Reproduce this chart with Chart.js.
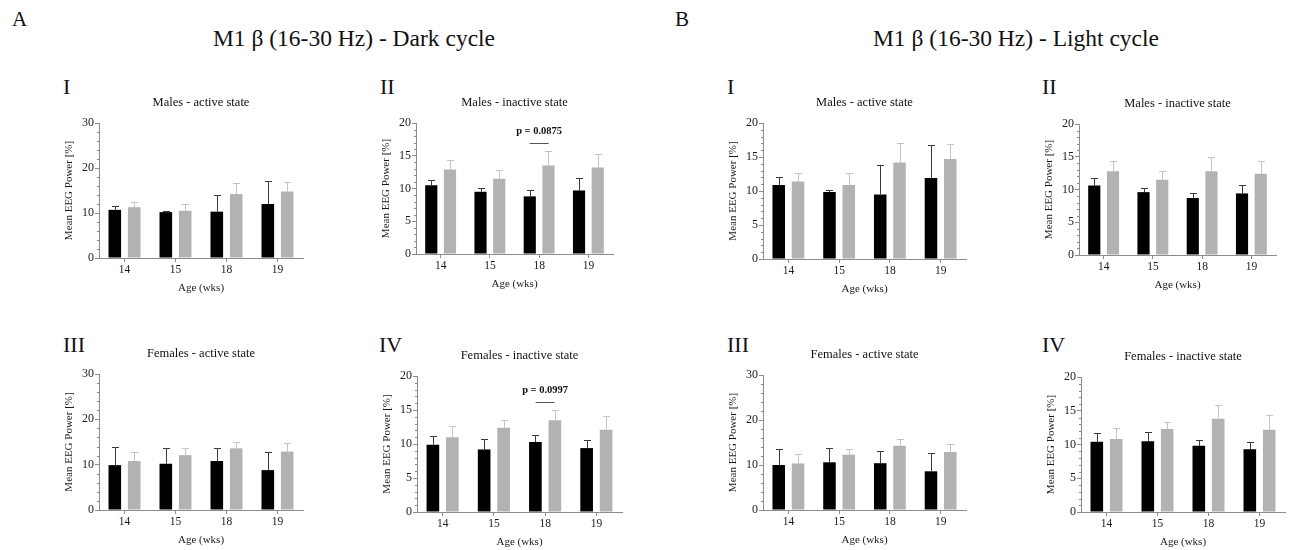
<!DOCTYPE html>
<html><head><meta charset="utf-8">
<script src="https://cdn.jsdelivr.net/npm/chart.js@4.4.1/dist/chart.umd.min.js"></script>
<style>
html,body{margin:0;padding:0;background:#fff;width:1290px;height:550px;overflow:hidden;position:relative;font-family:"Liberation Serif","Times New Roman",serif;}
canvas{position:absolute;}
.t{position:absolute;line-height:1;color:#111;white-space:nowrap;}
.c{text-align:center;width:400px;}
</style></head><body>
<script>
// ---------- DATA ----------
const ages = ['14', '15', '18', '19'];

// A: Dark cycle
const darkMaleActiveBlack      = [10.7, 10.2, 10.3, 12.0];
const darkMaleActiveBlackSem   = [0.9, 0.3, 3.6, 5.2];
const darkMaleActiveGray       = [11.3, 10.5, 14.2, 14.8];
const darkMaleActiveGraySem    = [1.2, 1.5, 2.5, 2.0];

const darkMaleInactiveBlack    = [10.5, 9.5, 8.8, 9.7];
const darkMaleInactiveBlackSem = [0.8, 0.55, 1.0, 1.9];
const darkMaleInactiveGray     = [12.9, 11.5, 13.5, 13.2];
const darkMaleInactiveGraySem  = [1.4, 1.3, 2.3, 2.1];

const darkFemaleActiveBlack    = [9.9, 10.2, 10.8, 8.8];
const darkFemaleActiveBlackSem = [3.95, 3.5, 2.8, 3.9];
const darkFemaleActiveGray     = [10.8, 12.1, 13.6, 12.9];
const darkFemaleActiveGraySem  = [2.1, 1.5, 1.5, 1.8];

const darkFemaleInactiveBlack    = [9.9, 9.2, 10.3, 9.4];
const darkFemaleInactiveBlackSem = [1.3, 1.5, 1.0, 1.2];
const darkFemaleInactiveGray     = [11.0, 12.4, 13.5, 12.1];
const darkFemaleInactiveGraySem  = [1.7, 1.2, 1.5, 2.0];

// B: Light cycle
const lightMaleActiveBlack      = [10.9, 9.85, 9.5, 11.9];
const lightMaleActiveBlackSem   = [1.15, 0.25, 4.3, 4.8];
const lightMaleActiveGray       = [11.4, 10.9, 14.2, 14.7];
const lightMaleActiveGraySem    = [1.25, 1.75, 2.85, 2.2];

const lightMaleInactiveBlack    = [10.6, 9.6, 8.7, 9.4];
const lightMaleInactiveBlackSem = [1.2, 0.7, 0.8, 1.35];
const lightMaleInactiveGray     = [12.8, 11.5, 12.8, 12.4];
const lightMaleInactiveGraySem  = [1.5, 1.3, 2.1, 2.0];

const lightFemaleActiveBlack    = [10.0, 10.6, 10.4, 8.6];
const lightFemaleActiveBlackSem = [3.6, 3.1, 2.8, 4.1];
const lightFemaleActiveGray     = [10.35, 12.3, 14.3, 12.9];
const lightFemaleActiveGraySem  = [2.2, 1.3, 1.4, 1.8];

const lightFemaleInactiveBlack    = [10.4, 10.5, 9.8, 9.3];
const lightFemaleInactiveBlackSem = [1.25, 1.35, 0.8, 1.1];
const lightFemaleInactiveGray     = [10.8, 12.3, 13.8, 12.2];
const lightFemaleInactiveGraySem  = [1.6, 1.1, 2.1, 2.2];

// axis ranges (max, major step)
const yTicks30 = [30, 10];
const yTicks20 = [20, 5];

// significance annotations
const pDarkMaleInactive   = {cat: '18', text: 'p = 0.0875', line: 17.0, label: 18.7};
const pDarkFemaleInactive = {cat: '18', text: 'p = 0.0997', line: 16.2, label: 17.9};

// ---------- LAYOUT ----------
const FONT = '"Liberation Serif","Times New Roman",serif';
const panels = [
  {rect:[99,123,303,258],  ax:yTicks30, title:'Males - active state',     roman:'I',   rx:63,   rb:94,  b:darkMaleActiveBlack, bs:darkMaleActiveBlackSem, g:darkMaleActiveGray, gs:darkMaleActiveGraySem},
  {rect:[416,123,613,254], ax:yTicks20, title:'Males - inactive state',   roman:'II',  rx:380,  rb:94,  b:darkMaleInactiveBlack, bs:darkMaleInactiveBlackSem, g:darkMaleInactiveGray, gs:darkMaleInactiveGraySem, p:pDarkMaleInactive},
  {rect:[99,374,303,510],  ax:yTicks30, title:'Females - active state',   roman:'III', rx:63,   rb:352, b:darkFemaleActiveBlack, bs:darkFemaleActiveBlackSem, g:darkFemaleActiveGray, gs:darkFemaleActiveGraySem},
  {rect:[417,376,622,512], ax:yTicks20, title:'Females - inactive state', roman:'IV',  rx:379,  rb:352, b:darkFemaleInactiveBlack, bs:darkFemaleInactiveBlackSem, g:darkFemaleInactiveGray, gs:darkFemaleInactiveGraySem, p:pDarkFemaleInactive},
  {rect:[763,123,966,259], ax:yTicks20, title:'Males - active state',     roman:'I',   rx:727,  rb:94,  b:lightMaleActiveBlack, bs:lightMaleActiveBlackSem, g:lightMaleActiveGray, gs:lightMaleActiveGraySem},
  {rect:[1079,124,1276,255], ax:yTicks20, title:'Males - inactive state', roman:'II',  rx:1042, rb:94,  b:lightMaleInactiveBlack, bs:lightMaleInactiveBlackSem, g:lightMaleInactiveGray, gs:lightMaleInactiveGraySem},
  {rect:[763,375,966,510], ax:yTicks30, title:'Females - active state',   roman:'III', rx:727,  rb:352, b:lightFemaleActiveBlack, bs:lightFemaleActiveBlackSem, g:lightFemaleActiveGray, gs:lightFemaleActiveGraySem},
  {rect:[1081,377,1285,512], ax:yTicks20, title:'Females - inactive state', roman:'IV', rx:1042, rb:352, b:lightFemaleInactiveBlack, bs:lightFemaleInactiveBlackSem, g:lightFemaleInactiveGray, gs:lightFemaleInactiveGraySem}
];

function addText(txt, size, left, baseline, cls, weight){
  const d = document.createElement('div');
  d.className = 't' + (cls ? ' ' + cls : '');
  d.textContent = txt;
  d.style.fontSize = size + 'px';
  d.style.left = left + 'px';
  d.style.top = (baseline - 0.8375 * size) + 'px';
  if (weight) d.style.fontWeight = weight;
  document.body.appendChild(d);
}
addText('A', 21, 12, 27);
addText('B', 21, 675, 27);
addText('M1 β (16-30 Hz) - Dark cycle', 23.5, 354 - 200, 47, 'c');
addText('M1 β (16-30 Hz) - Light cycle', 23.5, 1016 - 200, 47, 'c');
panels.forEach(p => addText(p.roman, 22, p.rx, p.rb));

const AX = '#8c8c8c';
const decoPlugin = {
  id: 'deco',
  afterDatasetsDraw(chart, args, opts) {
    const ctx = chart.ctx, ys = chart.scales.y, xs = chart.scales.x, a = chart.chartArea;
    // error bars
    chart.data.datasets.forEach((ds, di) => {
      const meta = chart.getDatasetMeta(di);
      meta.data.forEach((bar, i) => {
        const yt = Math.round(ys.getPixelForValue(ds.data[i] + ds.sem[i])) + 0.5;
        const bx = Math.round(bar.x) + 0.5;
        ctx.save();
        ctx.strokeStyle = ds.errColor; ctx.lineWidth = 1;
        ctx.beginPath();
        ctx.moveTo(bx, bar.y); ctx.lineTo(bx, yt);
        ctx.moveTo(bx - 3.5, yt); ctx.lineTo(bx + 3.5, yt);
        ctx.stroke();
        ctx.restore();
      });
    });
    // minor ticks on y
    ctx.save();
    ctx.strokeStyle = AX; ctx.lineWidth = 1;
    ctx.beginPath();
    const minor = opts.major / 5;
    for (let k = 0; k * minor <= opts.max + 1e-9; k++) {
      if (k % 5 === 0) continue;
      const yy = Math.round(ys.getPixelForValue(k * minor)) + 0.5;
      ctx.moveTo(Math.round(a.left) - 2, yy); ctx.lineTo(Math.round(a.left), yy);
    }
    ctx.stroke();
    ctx.restore();
    // subtitle
    ctx.save();
    ctx.font = '12.5px ' + FONT; ctx.fillStyle = '#111';
    ctx.textAlign = 'center'; ctx.textBaseline = 'middle';
    ctx.fillText(opts.title, (a.left + a.right) / 2, a.top - 20.5);
    ctx.restore();
    // p-value annotation
    if (opts.p) {
      const cx = xs.getPixelForValue(ages.indexOf(opts.p.cat));
      const ly = Math.round(ys.getPixelForValue(opts.p.line)) + 0.5;
      ctx.save();
      ctx.strokeStyle = '#555'; ctx.lineWidth = 1;
      ctx.beginPath(); ctx.moveTo(cx - 9.5, ly); ctx.lineTo(cx + 9.5, ly); ctx.stroke();
      ctx.font = 'bold 10.5px ' + FONT; ctx.fillStyle = '#111';
      ctx.textAlign = 'center'; ctx.textBaseline = 'middle';
      ctx.fillText(opts.p.text, cx, ys.getPixelForValue(opts.p.label));
      ctx.restore();
    }
  }
};

const ML = 45, MR = 4, MT = 40, MB = 38;
panels.forEach(p => {
  const [l, t, r, b] = p.rect;
  const W = (r - l) + ML + MR, H = (b - t) + MT + MB;
  const cv = document.createElement('canvas');
  cv.width = W; cv.height = H;
  cv.style.left = (l - ML) + 'px'; cv.style.top = (t - MT) + 'px';
  cv.style.width = W + 'px'; cv.style.height = H + 'px';
  document.body.appendChild(cv);
  new Chart(cv, {
    type: 'bar',
    data: {
      labels: ages,
      datasets: [
        {label: 'Black', data: p.b, sem: p.bs, backgroundColor: '#000000', errColor: '#3a3a3a', borderWidth: 0, categoryPercentage: 0.76, barPercentage: 0.65},
        {label: 'Gray', data: p.g, sem: p.gs, backgroundColor: '#b2b2b2', errColor: '#c4c4c4', borderWidth: 0, categoryPercentage: 0.76, barPercentage: 0.65}
      ]
    },
    options: {
      responsive: false, animation: false, devicePixelRatio: 1,
      layout: {padding: {left: 5, right: MR, top: MT, bottom: 0}},
      plugins: {legend: {display: false}, tooltip: {enabled: false}, title: {display: false},
        deco: {title: p.title, p: p.p, max: p.ax[0], major: p.ax[1]}},
      scales: {
        x: {
          grid: {display: true, drawOnChartArea: false, drawTicks: true, tickLength: 4, color: AX, offset: false},
          border: {display: true, color: AX},
          ticks: {color: '#1a1a1a', font: {family: FONT, size: 11.5}, padding: 1, maxRotation: 0, autoSkip: false},
          title: {display: true, text: 'Age (wks)', color: '#1a1a1a', font: {family: FONT, size: 11}, padding: {top: 0, bottom: 1}},
          afterFit(s) { s.height = MB; }
        },
        y: {
          min: 0, max: p.ax[0],
          grid: {display: true, drawOnChartArea: false, drawTicks: true, tickLength: 4, color: AX},
          border: {display: true, color: AX},
          ticks: {stepSize: p.ax[1], color: '#1a1a1a', font: {family: FONT, size: 12}, padding: 1},
          title: {display: true, text: 'Mean EEG Power [%]', color: '#1a1a1a', font: {family: FONT, size: 11}, padding: {top: 4, bottom: 0}},
          afterFit(s) { s.width = 40; }
        }
      }
    },
    plugins: [decoPlugin]
  });
});
</script>
</body></html>
